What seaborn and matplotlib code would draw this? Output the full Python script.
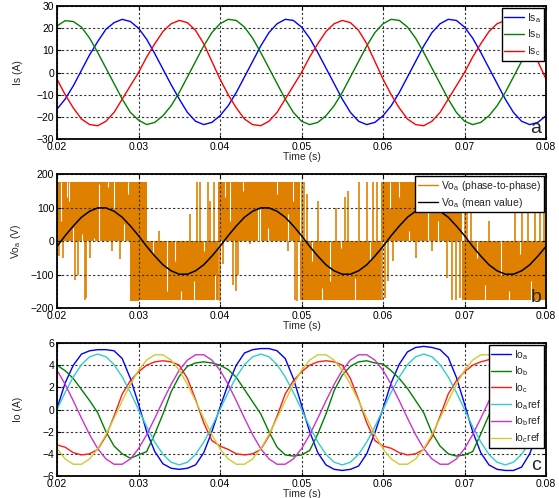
import numpy as np
import pandas as pd
import matplotlib
matplotlib.use("Agg")
import matplotlib.pyplot as plt
from matplotlib.lines import Line2D
import seaborn as sns

sns.set_style("white")
plt.rcParams['font.family'] = ['Liberation Sans', 'DejaVu Sans']
plt.rcParams['mathtext.fontset'] = 'custom'
plt.rcParams['mathtext.rm'] = 'Liberation Sans'
plt.rcParams['mathtext.it'] = 'Liberation Sans'

# time base, one sample per ms
t = np.round(np.arange(20, 81) / 1000.0, 3)

# ---- panel a : stator currents (A)
is_a = [-16.5, -12, -6, 1, 8, 14, 19.5, 22.5, 24, 23, 20, 15, 8.5, 1.5, -5.5, -12, -18, -22, -23.5, -22.5,
        -19.5, -15, -9, -2, 5, 12, 18, 22, 24, 23.5, 20.5, 15.5, 9, 2, -5, -12, -18, -22, -23.5, -22.5,
        -19.5, -15, -9, -2, 5, 12, 18, 22, 24, 23.5, 20.5, 15.5, 9, 2, -5, -12, -18, -22, -23.5, -22.5,
        -19.5]
is_b = [21, 23.4, 23, 20.5, 15.5, 9, 2, -5, -12, -18, -21.5, -23.5, -22.5, -19.5, -15, -9, -2, 5, 12, 18,
        22, 24, 23.5, 20.5, 15.5, 9, 2, -5, -12, -18, -22, -23.5, -22.5, -19.5, -15, -9, -2, 5, 12, 18,
        22, 24, 23.5, 20.5, 15.5, 9, 2, -5, -12, -18, -22, -23.5, -22.5, -19.5, -15, -9, -2, 5, 12, 18,
        22]
is_c = [-3, -10, -16, -21, -23.5, -24, -22, -18, -12, -6, 0, 7, 13, 18.5, 22, 23.5, 22.5, 19, 13, 5,
        -3, -10, -16, -21, -23.5, -24, -22, -18, -12, -6, 0, 7, 13, 18.5, 22, 23.5, 22.5, 19, 13, 5,
        -3, -10, -16, -21, -23.5, -24, -22, -18, -12, -6, 0, 7, 13, 18.5, 22, 23.5, 22.5, 19, 13, 5,
        -3]

# ---- panel b : output voltage (V)
vo_mean = [-16, 16, 45, 71, 89, 99, 99, 89, 71, 45, 16, -16, -45, -71, -89, -99, -99, -89, -71, -45,
           -16, 16, 45, 71, 89, 99, 99, 89, 71, 45, 16, -16, -45, -71, -89, -99, -99, -89, -71, -45,
           -16, 16, 45, 71, 89, 99, 99, 89, 71, 45, 16, -16, -45, -71, -89, -99, -99, -89, -71, -45,
           -16]
# dense PWM zones (start, end, low, high)
blk_t0 = [0.0200, 0.0289, 0.0300, 0.0300, 0.0397, 0.0498, 0.0597, 0.0697]
blk_t1 = [0.0300, 0.0300, 0.0310, 0.0397, 0.0498, 0.0597, 0.0697, 0.0800]
blk_lo = [0, -178, 0, -175, 0, -175, 0, -175]
blk_hi = [175, 0, 175, 0, 175, 0, 175, 0]
# isolated switching spikes (time, low, high)
spk_t = [0.0203, 0.0207, 0.0222, 0.0226, 0.0234, 0.0236, 0.0240, 0.0268, 0.0277,
         0.0325, 0.0363, 0.0372, 0.0376, 0.0385, 0.0388, 0.0392,
         0.0398, 0.0400, 0.0404, 0.0416, 0.0419, 0.0422, 0.0437, 0.0483, 0.0492, 0.0495,
         0.0500, 0.0503, 0.0507, 0.0520, 0.0542, 0.0553, 0.0557, 0.0570, 0.0580, 0.0588, 0.0593,
         0.0599, 0.0602, 0.0606, 0.0612, 0.0640, 0.0660, 0.0678, 0.0685, 0.0690, 0.0694,
         0.0700, 0.0703, 0.0708, 0.0730, 0.0762, 0.0770, 0.0778, 0.0786, 0.0792, 0.0797]
spk_lo = [-45, -50, -115, -100, -175, -170, -50, -30, -55,
          0, 0, 0, 0, 0, 0, 0,
          -175, -178, -70, -130, -150, -100, -10, -30, -175, -178,
          0, 0, 0, 0, 0, 0, 0, 0, 0, 0, 0,
          -175, -170, -120, -60, -50, -30, -110, -175, -175, -170,
          0, 0, 0, 0, 0, 0, 0, 0, 0, 0]
spk_hi = [0, 0, 0, 0, 0, 0, 0, 0, 0,
          30, 80, 175, 175, 175, 120, 175,
          0, 0, 0, 0, 0, 0, 0, 0, 0, 0,
          175, 175, 140, 120, 100, 130, 150, 175, 175, 175, 175,
          0, 0, 0, 0, 0, 0, 0, 0, 0, 0,
          175, 170, 120, 60, 100, 130, 110, 140, 175, 175]
# white notches inside the PWM zones (time, low, high)
gap_t = [0.0205, 0.0212, 0.0215, 0.0219, 0.0231, 0.0245, 0.0252, 0.0262, 0.0270, 0.0282, 0.0287,
         0.0318, 0.0335, 0.0345, 0.0352, 0.0368, 0.0380, 0.0394,
         0.0406, 0.0412, 0.0428, 0.0446, 0.0449, 0.0459, 0.0470, 0.0484, 0.0489,
         0.0513, 0.0525, 0.0535, 0.0548, 0.0565, 0.0584,
         0.0608, 0.0620, 0.0632, 0.0648, 0.0655, 0.0668, 0.0682,
         0.0715, 0.0725, 0.0745, 0.0755, 0.0768, 0.0782]
gap_lo = [60, 130, 120, 0, 0, 0, 0, 160, 100, 0, 140,
          -40, -150, -60, -175, -175, -30, -175,
          130, 60, 150, 0, 0, 0, 140, 0, 120,
          -60, -175, -120, -20, -175, -60,
          100, 130, 0, 150, 0, 0, 120,
          -50, -175, -100, -175, -40, -175]
gap_hi = [175, 175, 175, 40, 20, 8, 170, 175, 175, 50, 175,
          0, 0, 0, -150, -120, 0, -100,
          175, 175, 175, 95, 95, 40, 175, 80, 175,
          0, -140, 0, 0, -110, 0,
          175, 175, 30, 175, 90, 60, 175,
          0, -130, 0, -150, 0, -120]

# ---- panel c : output currents (A)
io_a = [0.1, 2.4, 4.0, 5.0, 5.3, 5.4, 5.4, 5.3, 4.6, 2.8, 0.5, -2.0, -3.8, -4.9, -5.3, -5.4, -5.3, -5.0, -3.9, -2.0,
        0.2, 2.3, 4.0, 5.1, 5.4, 5.5, 5.5, 5.3, 4.6, 2.8, 0.4, -2.0, -3.9, -5.0, -5.4, -5.5, -5.4, -5.1, -4.0, -2.1,
        0.1, 2.4, 4.1, 5.2, 5.6, 5.7, 5.6, 5.4, 4.7, 2.9, 0.5, -2.0, -3.9, -5.0, -5.4, -5.5, -5.5, -5.2, -4.0, -2.0,
        0.2]
io_b = [4.0, 3.5, 2.8, 1.8, 0.8, -0.3, -2.0, -3.3, -4.0, -4.4, -4.1, -3.8, -2.2, -0.4, 1.6, 3.0, 3.9, 4.2, 4.3, 4.2,
        4.0, 3.6, 2.9, 1.8, 0.7, -0.4, -2.0, -3.4, -4.1, -4.2, -4.1, -3.7, -2.2, -0.4, 1.7, 3.1, 3.9, 4.3, 4.4, 4.2,
        4.1, 3.5, 2.8, 1.9, 0.8, -0.3, -2.1, -3.3, -4.0, -4.2, -4.1, -3.8, -2.2, -0.5, 1.6, 3.0, 3.9, 4.2, 4.3, 4.2,
        4.0]
io_c = [-3.2, -3.4, -3.9, -4.1, -4.0, -3.6, -2.4, -0.6, 1.4, 2.6, 3.4, 4.0, 4.3, 4.4, 4.3, 4.0, 2.8, 0.9, -1.2, -2.8,
        -3.3, -3.6, -4.0, -4.1, -4.0, -3.6, -2.4, -0.6, 1.4, 2.6, 3.4, 4.0, 4.3, 4.4, 4.3, 4.0, 2.8, 0.9, -1.2, -2.8,
        -3.3, -3.5, -3.9, -4.1, -4.0, -3.6, -2.5, -0.6, 1.4, 2.6, 3.4, 4.0, 4.3, 4.5, 4.3, 4.0, 2.8, 0.9, -1.2, -2.8,
        -3.2]
io_a_ref = [0, 1.55, 2.94, 4.05, 4.76, 5, 4.76, 4.05, 2.94, 1.55, 0, -1.55, -2.94, -4.05, -4.76, -5, -4.76, -4.05, -2.94, -1.55,
            0, 1.55, 2.94, 4.05, 4.76, 5, 4.76, 4.05, 2.94, 1.55, 0, -1.55, -2.94, -4.05, -4.76, -5, -4.76, -4.05, -2.94, -1.55,
            0, 1.55, 2.94, 4.05, 4.76, 5, 4.76, 4.05, 2.94, 1.55, 0, -1.55, -2.94, -4.05, -4.76, -5, -4.76, -4.05, -2.94, -1.55,
            0]
io_b_ref = [3.54, 2.27, 0.78, -0.78, -2.27, -3.54, -4.46, -4.94, -4.94, -4.46, -3.54, -2.27, -0.78, 0.78, 2.27, 3.54, 4.46, 4.94, 4.94, 4.46,
            3.54, 2.27, 0.78, -0.78, -2.27, -3.54, -4.46, -4.94, -4.94, -4.46, -3.54, -2.27, -0.78, 0.78, 2.27, 3.54, 4.46, 4.94, 4.94, 4.46,
            3.54, 2.27, 0.78, -0.78, -2.27, -3.54, -4.46, -4.94, -4.94, -4.46, -3.54, -2.27, -0.78, 0.78, 2.27, 3.54, 4.46, 4.94, 4.94, 4.46,
            3.54]
io_c_ref = [-3.54, -4.46, -4.94, -4.94, -4.46, -3.54, -2.27, -0.78, 0.78, 2.27, 3.54, 4.46, 4.94, 4.94, 4.46, 3.54, 2.27, 0.78, -0.78, -2.27,
            -3.54, -4.46, -4.94, -4.94, -4.46, -3.54, -2.27, -0.78, 0.78, 2.27, 3.54, 4.46, 4.94, 4.94, 4.46, 3.54, 2.27, 0.78, -0.78, -2.27,
            -3.54, -4.46, -4.94, -4.94, -4.46, -3.54, -2.27, -0.78, 0.78, 2.27, 3.54, 4.46, 4.94, 4.94, 4.46, 3.54, 2.27, 0.78, -0.78, -2.27,
            -3.54]

ORANGE = '#e08000'
FS = 7.5


def long_df(series):
    parts = []
    for name, vals in series.items():
        parts.append(pd.DataFrame({'t': t, 'v': vals, 's': name}))
    return pd.concat(parts, ignore_index=True)


def style_axes(ax, yticks, ylabel, letter):
    ax.set_xlim(0.02, 0.08)
    ax.set_xticks([0.02, 0.03, 0.04, 0.05, 0.06, 0.07, 0.08])
    ax.set_xticklabels(['0.02', '0.03', '0.04', '0.05', '0.06', '0.07', '0.08'])
    ax.set_ylim(yticks[0], yticks[-1])
    ax.set_yticks(yticks)
    ax.tick_params(direction='in', length=3, width=0.8, labelsize=FS, pad=2,
                   left=True, bottom=True, top=True, right=True, colors='k')
    ax.tick_params(axis='x', pad=2.5)
    ax.grid(True, color='0.2', linestyle=(0, (2, 2)), linewidth=0.8)
    ax.set_axisbelow(False)
    for gl in ax.get_xgridlines() + ax.get_ygridlines():
        gl.set_zorder(4)
    for sp in ax.spines.values():
        sp.set_visible(True)
        sp.set_color('k')
        sp.set_linewidth(1.3)
        sp.set_zorder(6)
    ax.set_xlabel('Time (s)', fontsize=FS, labelpad=0)
    ax.set_ylabel(ylabel, fontsize=FS)
    ax.yaxis.set_label_coords(-0.07, 0.5)
    ax.text(0.99, 0.015, letter, transform=ax.transAxes, ha='right', va='bottom',
            fontsize=14, zorder=7)


def legend(ax, handles, labels):
    lg = ax.legend(handles, labels, loc='upper right', fontsize=FS, frameon=True,
                   fancybox=False, edgecolor='k', framealpha=1, handlelength=1.9,
                   handletextpad=0.3, labelspacing=0.28, borderpad=0.25,
                   borderaxespad=0.2)
    lg.get_frame().set_linewidth(1.0)
    lg.set_zorder(8)


fig = plt.figure(figsize=(5.59, 4.98), dpi=100)
ax1 = fig.add_axes([0.102, 0.7209, 0.8748, 0.267])
ax2 = fig.add_axes([0.102, 0.3815, 0.8748, 0.269])
ax3 = fig.add_axes([0.102, 0.0442, 0.8748, 0.267])

# panel a
names_a = ['Is$_\\mathrm{a}$', 'Is$_\\mathrm{b}$', 'Is$_\\mathrm{c}$']
df_a = long_df(dict(zip(names_a, [is_a, is_b, is_c])))
sns.lineplot(data=df_a, x='t', y='v', hue='s', hue_order=names_a,
             palette=['#0000ff', '#008000', '#ff0000'], linewidth=1.0,
             errorbar=None, ax=ax1, zorder=3)
h, l = ax1.get_legend_handles_labels()
legend(ax1, h, l)
style_axes(ax1, [-30, -20, -10, 0, 10, 20, 30], 'Is (A)', 'a')

# panel b
ax2.bar(blk_t0, np.array(blk_hi) - np.array(blk_lo), bottom=blk_lo,
        width=np.array(blk_t1) - np.array(blk_t0), align='edge', color=ORANGE,
        linewidth=0, zorder=1)
ax2.vlines(spk_t, spk_lo, spk_hi, color=ORANGE, linewidth=1.2, zorder=1)
ax2.vlines(gap_t, gap_lo, gap_hi, color='white', linewidth=0.8, zorder=2)
df_b = pd.DataFrame({'t': t, 'v': vo_mean})
sns.lineplot(data=df_b, x='t', y='v', color='k', linewidth=1.1, errorbar=None,
             ax=ax2, zorder=3)
legend(ax2, [Line2D([], [], color=ORANGE, lw=1.0), Line2D([], [], color='k', lw=1.0)],
       ['Vo$_\\mathrm{a}$ (phase-to-phase)', 'Vo$_\\mathrm{a}$ (mean value)'])
style_axes(ax2, [-200, -100, 0, 100, 200], 'Vo$_\\mathrm{a}$ (V)', 'b')

# panel c
names_c = ['Io$_\\mathrm{a}$', 'Io$_\\mathrm{b}$', 'Io$_\\mathrm{c}$',
           'Io$_\\mathrm{a}$ref', 'Io$_\\mathrm{b}$ref', 'Io$_\\mathrm{c}$ref']
df_c = long_df(dict(zip(names_c, [io_a, io_b, io_c, io_a_ref, io_b_ref, io_c_ref])))
sns.lineplot(data=df_c, x='t', y='v', hue='s', hue_order=names_c,
             palette=['#0000ff', '#008000', '#ff1a1a', '#33cccc', '#cc33cc', '#cccc33'],
             linewidth=1.0, errorbar=None, ax=ax3, zorder=3)
h, l = ax3.get_legend_handles_labels()
legend(ax3, h, l)
style_axes(ax3, [-6, -4, -2, 0, 2, 4, 6], 'Io (A)', 'c')

fig.savefig('out.png', dpi=100)
